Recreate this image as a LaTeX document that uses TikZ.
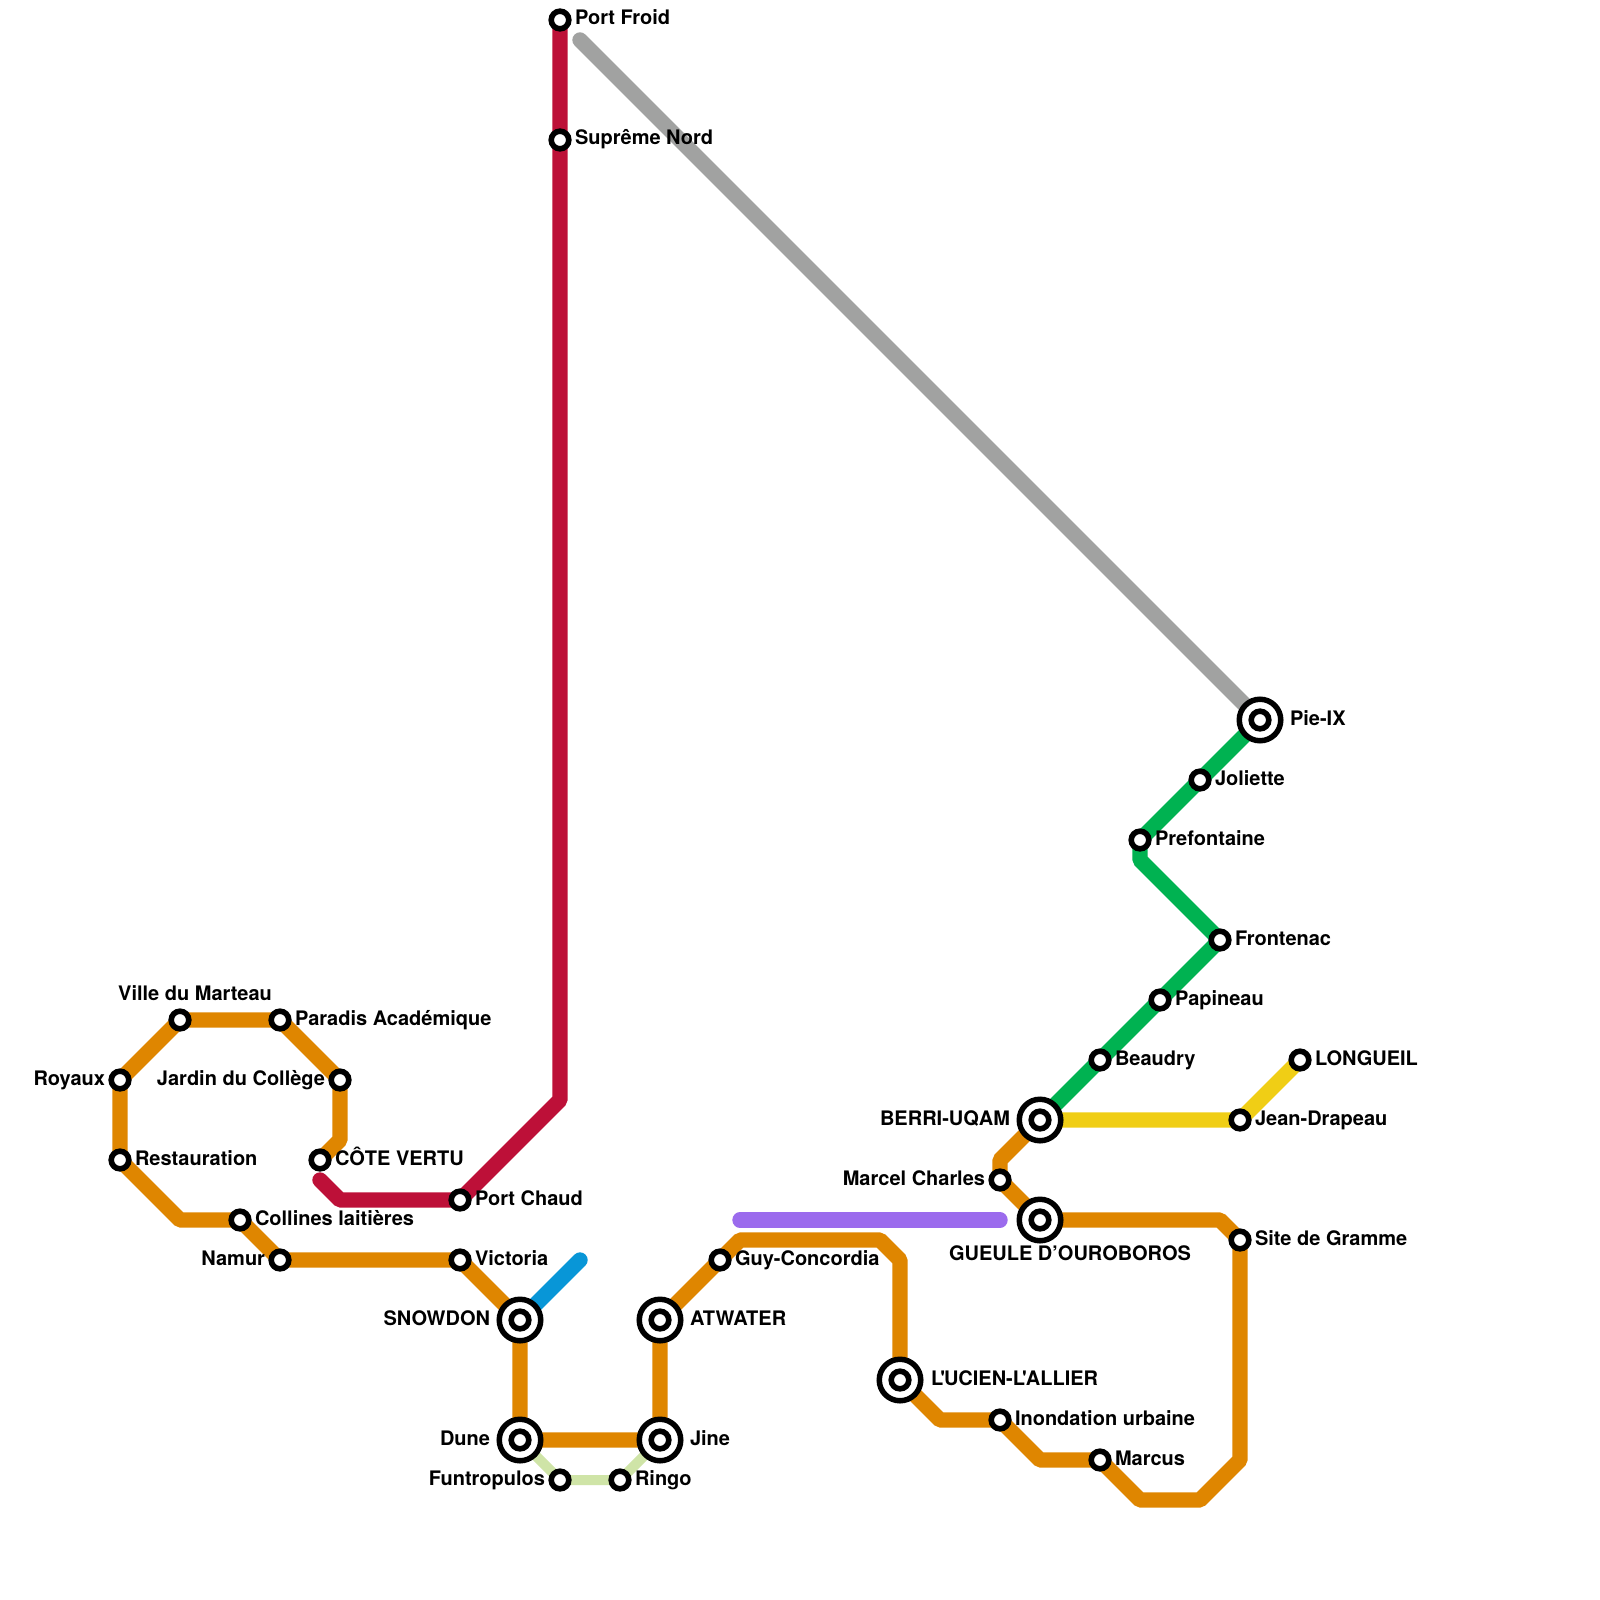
\documentclass[tikz,border=0pt]{standalone}
\usepackage{fontspec}
\newfontfamily\labfont{TeX Gyre Heros}
\pgfdeclarelayer{lines}
\pgfsetlayers{lines,main}
\definecolor{cOrange}{HTML}{DF8600}
\definecolor{cCrimson}{HTML}{BD1038}
\definecolor{cGray}{HTML}{A1A2A1}
\definecolor{cGreen}{HTML}{00B251}
\definecolor{cYellow}{HTML}{F0CE15}
\definecolor{cBlue}{HTML}{0896D7}
\definecolor{cPurple}{HTML}{9B6BED}
\definecolor{cPale}{HTML}{CFE4A7}
\tikzset{
  metro/.style={line width=15.4pt,line join=bevel},
  thinmetro/.style={line width=10pt,line join=bevel},
  roundend/.style={metro,line cap=round},
  stsmall/.style={circle,draw=black,fill=white,line width=5.6pt,minimum size=17.6pt,inner sep=0pt,outer sep=0pt},
  stlarge/.style={circle,draw=black,fill=white,line width=5.5pt,minimum size=41.5pt,inner sep=0pt,outer sep=0pt},
  lab/.style={inner sep=0pt,outer sep=0pt,yshift=-1pt,font=\labfont\bfseries\fontsize{20}{22}\selectfont},
  labR/.style={lab,anchor=base west,xshift=-1pt},
  labL/.style={lab,anchor=base east,xshift=1pt},
  labC/.style={lab,anchor=base}
}
\newcommand{\smallst}[2]{\node[stsmall] (#1) at (#2) {};}
\newcommand{\largest}[2]{\node[stlarge] (#1) at (#2) {};\node[stsmall] (#1in) at (#2) {};}
\begin{document}
\begin{tikzpicture}[x=1pt,y=-1pt]
\useasboundingbox (0,0) rectangle (1600,1600);
% corners
\coordinate (cA) at (340,1140);
\coordinate (cB) at (180,1220);
\coordinate (cC) at (740,1240);
\coordinate (cD) at (880,1240);
\coordinate (cE) at (900,1260);
\coordinate (cF) at (940,1420);
\coordinate (cG) at (1040,1460);
\coordinate (cH) at (1140,1500);
\coordinate (cI) at (1200,1500);
\coordinate (cJ) at (1240,1460);
\coordinate (cK) at (1220,1220);
\coordinate (cL) at (1000,1160);
\coordinate (rA) at (320,1180);
\coordinate (rB) at (340,1200);
\coordinate (rC) at (560,1100);
\coordinate (gA) at (580,40);
\coordinate (nA) at (1140,860);
\coordinate (bA) at (580,1260);
\coordinate (pA) at (740,1220);
\coordinate (pB) at (1000,1220);
% stations
\smallst{marteau}{180,1020}
\smallst{paradis}{280,1020}
\smallst{jardin}{340,1080}
\smallst{royaux}{120,1080}
\smallst{restauration}{120,1160}
\smallst{cote}{320,1160}
\smallst{collines}{240,1220}
\smallst{namur}{280,1260}
\smallst{victoria}{460,1260}
\smallst{portchaud}{460,1200}
\smallst{portfroid}{560,20}
\smallst{supreme}{560,140}
\smallst{funtropulos}{560,1480}
\smallst{ringo}{620,1480}
\smallst{guy}{720,1260}
\smallst{inondation}{1000,1420}
\smallst{marcus}{1100,1460}
\smallst{site}{1240,1240}
\smallst{marcel}{1000,1180}
\smallst{jean}{1240,1120}
\smallst{longueil}{1300,1060}
\smallst{beaudry}{1100,1060}
\smallst{papineau}{1160,1000}
\smallst{frontenac}{1220,940}
\smallst{prefontaine}{1140,840}
\smallst{joliette}{1200,780}
\largest{snowdon}{520,1320}
\largest{dune}{520,1440}
\largest{jine}{660,1440}
\largest{atwater}{660,1320}
\largest{lucien}{900,1380}
\largest{gueule}{1040,1220}
\largest{berri}{1040,1120}
\largest{pieix}{1260,720}
% lines
\begin{pgfonlayer}{lines}
\fill[white] (0,0) rectangle (1600,1600);
\draw[metro,cOrange] (cote.center) -- (cA) -- (jardin.center) -- (paradis.center) -- (marteau.center) -- (royaux.center) -- (restauration.center) -- (cB) -- (collines.center) -- (namur.center) -- (victoria.center) -- (snowdon.center) -- (dune.center) -- (jine.center) -- (atwater.center) -- (guy.center) -- (cC) -- (cD) -- (cE) -- (lucien.center) -- (cF) -- (inondation.center) -- (cG) -- (marcus.center) -- (cH) -- (cI) -- (cJ) -- (site.center) -- (cK) -- (gueule.center) -- (marcel.center) -- (cL) -- (berri.center);
\draw[roundend,cCrimson] (rA) -- (rB) -- (portchaud.center) -- (rC) -- (supreme.center) -- (portfroid.center);
\draw[roundend,cGray] (gA) -- (pieix.center);
\draw[metro,cGreen] (pieix.center) -- (joliette.center) -- (prefontaine.center) -- (nA) -- (frontenac.center) -- (papineau.center) -- (beaudry.center) -- (berri.center);
\draw[metro,cYellow] (berri.center) -- (jean.center) -- (longueil.center);
\draw[roundend,cBlue] (snowdon.center) -- (bA);
\draw[roundend,cPurple] (pA) -- (pB);
\draw[thinmetro,cPale] (dune.center) -- (funtropulos.center) -- (ringo.center) -- (jine.center);
\end{pgfonlayer}
% labels
\node[labC] (lmarteau) at (195,999) {Ville du Marteau};
\node[labR] (lparadis) at (296,1024) {Paradis Académique};
\node[labL] (ljardin) at (324,1084) {Jardin du Collège};
\node[labL] (lroyaux) at (104,1084) {Royaux};
\node[labR] (lrest) at (136,1164) {Restauration};
\node[labR] (lcote) at (336,1164) {CÔTE VERTU};
\node[labR] (lcoll) at (256,1224) {Collines laitières};
\node[labL] (lnamur) at (264,1264) {Namur};
\node[labR] (lvict) at (476,1264) {Victoria};
\node[labR] (lchaud) at (476,1204) {Port Chaud};
\node[labR] (lfroid) at (576,24) {Port Froid};
\node[labR] (lsupr) at (576,144) {Suprême Nord};
\node[labL] (lfunt) at (544,1484) {Funtropulos};
\node[labR] (lringo) at (636,1484) {Ringo};
\node[labR] (lguy) at (736,1264) {Guy-Concordia};
\node[labR] (linon) at (1016,1424) {Inondation urbaine};
\node[labR] (lmarc) at (1116,1464) {Marcus};
\node[labR] (lsite) at (1256,1244) {Site de Gramme};
\node[labL] (lmarcel) at (984,1184) {Marcel Charles};
\node[labR] (ljean) at (1256,1124) {Jean-Drapeau};
\node[labR] (llong) at (1316,1064) {LONGUEIL};
\node[labR] (lbeau) at (1116,1064) {Beaudry};
\node[labR] (lpap) at (1176,1004) {Papineau};
\node[labR] (lfron) at (1236,944) {Frontenac};
\node[labR] (lpref) at (1156,844) {Prefontaine};
\node[labR] (ljol) at (1216,784) {Joliette};
\node[labL] (lsnow) at (489,1324) {SNOWDON};
\node[labL] (ldune) at (489,1444) {Dune};
\node[labR] (ljine) at (691,1444) {Jine};
\node[labR] (latw) at (691,1324) {ATWATER};
\node[labR] (lluc) at (932,1384) {L\kern-3pt'\kern-1pt UCIEN-L\kern-3pt'\kern-1pt ALLIER};
\node[labC] (lgue) at (1070,1259) {GUEULE D’OUROBOROS};
\node[labL] (lberri) at (1009,1124) {BERRI-UQAM};
\node[labR] (lpie) at (1291,724) {Pie-IX};
\end{tikzpicture}
\end{document}
